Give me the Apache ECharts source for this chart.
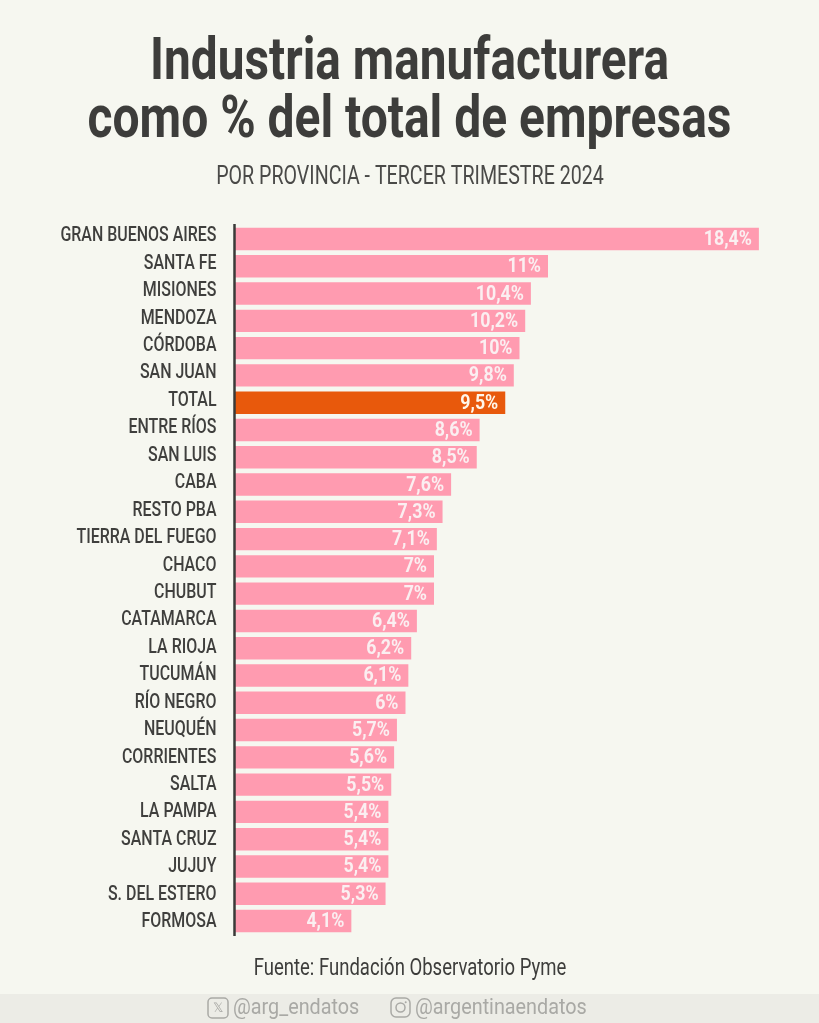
<!DOCTYPE html>
<html><head><meta charset="utf-8"><style>html,body{margin:0;padding:0;background:#f6f7f0}#c{width:819px;height:1023px}</style>
<script src="https://cdn.jsdelivr.net/npm/echarts@6/dist/echarts.min.js"></script></head><body><div id="c"></div>
<script>
const categories=["GRAN BUENOS AIRES","SANTA FE","MISIONES","MENDOZA","CÓRDOBA","SAN JUAN","TOTAL","ENTRE RÍOS","SAN LUIS","CABA","RESTO PBA","TIERRA DEL FUEGO","CHACO","CHUBUT","CATAMARCA","LA RIOJA","TUCUMÁN","RÍO NEGRO","NEUQUÉN","CORRIENTES","SALTA","LA PAMPA","SANTA CRUZ","JUJUY","S. DEL ESTERO","FORMOSA"];
const values=[18.4,11,10.4,10.2,10,9.8,9.5,8.6,8.5,7.6,7.3,7.1,7,7,6.4,6.2,6.1,6,5.7,5.6,5.5,5.4,5.4,5.4,5.3,4.1];
const highlight="TOTAL";
const F="Roboto,sans-serif";
const DARK='#3d3d3b',GREY='#a9a9a5';
function narrow(text,x,y,scaleX,size,weight,fill,align){
 return {type:'text',x:x,y:y,scaleX:scaleX,silent:true,style:{text:text,align:align||'center',verticalAlign:'middle',fontFamily:F,fontSize:size,fontWeight:weight,fill:fill}};
}
const chart=echarts.init(document.getElementById('c'),null,{renderer:'canvas'});
chart.setOption({
 backgroundColor:'#f6f7f0',animation:false,
 graphic:[
  {type:'rect',z:-1,shape:{x:0,y:994,width:819,height:29},style:{fill:'#ecece6'}},
  narrow('Industria manufacturera',409.5,64,0.81,59,'bold',DARK),
  narrow('como % del total de empresas',409.5,122,0.813,59,'bold',DARK),
  narrow('POR PROVINCIA - TERCER TRIMESTRE 2024',410,178,0.785,25,'normal','#4a4a48'),
  narrow('Fuente: Fundación Observatorio Pyme',410,969,0.805,23,'normal',DARK),
  narrow('@arg_endatos',233,1008,0.9,22,'normal',GREY,'left'),
  narrow('@argentinaendatos',415,1008,0.9,22,'normal',GREY,'left'),
  {type:'rect',shape:{x:208,y:998,width:20,height:20,r:4},style:{fill:'none',stroke:GREY,lineWidth:1.5}},
  {type:'text',style:{x:218,y:1008,text:'𝕏',align:'center',verticalAlign:'middle',fontSize:13,fill:GREY}},
  {type:'rect',shape:{x:391,y:998,width:19,height:19,r:5},style:{fill:'none',stroke:GREY,lineWidth:1.5}},
  {type:'circle',shape:{cx:400.5,cy:1007.5,r:4.5},style:{fill:'none',stroke:GREY,lineWidth:1.5}},
  {type:'circle',shape:{cx:405.7,cy:1002.3,r:1},style:{fill:GREY}}
 ],
 grid:[
  {left:234.5,top:225.36,width:570,height:709.3},
  {left:234.5,top:221.3,width:570,height:713.4}
 ],
 xAxis:[
  {gridIndex:0,type:'value',min:0,max:20,show:false},
  {gridIndex:1,type:'value',min:0,max:20,show:false}
 ],
 yAxis:[
  {gridIndex:0,type:'category',inverse:true,data:categories,axisLabel:{show:false},axisTick:{show:false},axisLine:{show:false}},
  {gridIndex:1,type:'category',inverse:true,data:categories,axisLabel:{show:false},axisTick:{show:false},axisLine:{show:false}}
 ],
 series:[
  {type:'bar',xAxisIndex:0,yAxisIndex:0,barWidth:22.4,
   data:values.map((v,i)=>({value:v,itemStyle:{color:categories[i]===highlight?'#e8590c':'#ff9bb0'}}))},
  {type:'custom',xAxisIndex:0,yAxisIndex:0,z:5,silent:true,
   data:values.map((v,i)=>[v,i]),encode:{x:0,y:1},
   renderItem:(p,api)=>{
    const v=api.value(0),i=api.value(1),c=api.coord([v,i]),hi=categories[i]===highlight;
    return narrow(String(v).replace('.',',')+'%',c[0]-7,c[1]+1,0.89,20,'bold',hi?'#fff6ea':'#fbeff1','right');
   }},
  {type:'custom',xAxisIndex:1,yAxisIndex:1,z:5,silent:true,
   data:values.map((v,i)=>[0,i]),encode:{x:0,y:1},
   renderItem:(p,api)=>{
    const i=api.value(1),c=api.coord([0,i]);
    return narrow(categories[i],c[0]-18,c[1]+1,0.76,21,'500','#3f3f3d','right');
   },
   markLine:{symbol:'none',silent:true,label:{show:false},lineStyle:{color:'#3a3a38',width:2.5,type:'solid'},
    data:[[{xAxis:0,y:224},{xAxis:0,y:936}]]}}
 ]
});
</script></body></html>
